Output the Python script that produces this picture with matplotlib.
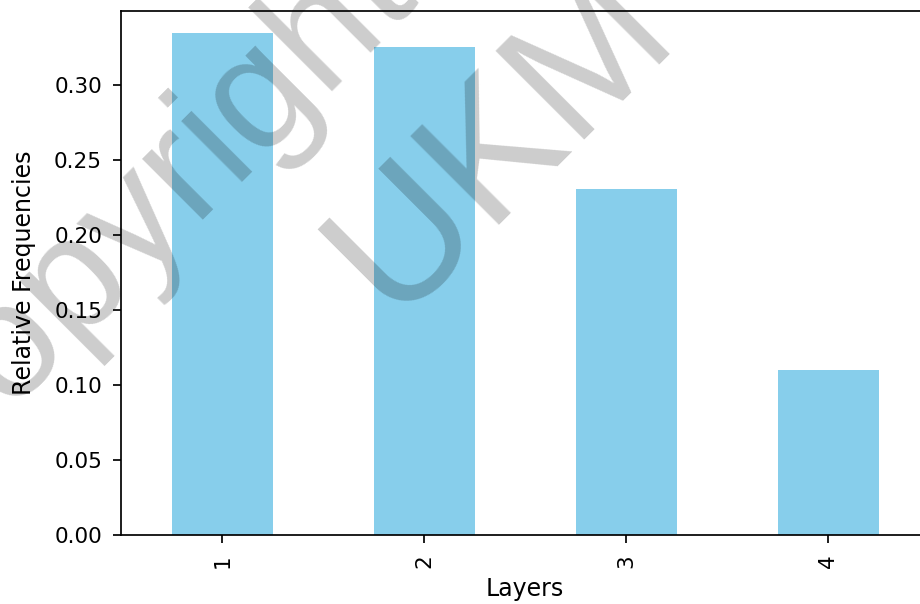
import matplotlib
matplotlib.use("Agg")
import matplotlib.pyplot as plt
import numpy as np

# Data
layers = ["1", "2", "3", "4"]
rel_freq = [0.335, 0.326, 0.231, 0.110]

W, H, DPI = 920, 604, 155
fig = plt.figure(figsize=(W / DPI, H / DPI), dpi=DPI)
ax = fig.add_axes([121.5 / W, 69 / H, (929 - 121.5) / W, (535 - 11) / H])

x = np.arange(len(layers))
ax.bar(x, rel_freq, width=0.5, color="skyblue")
ax.set_xlim(-0.5, len(layers) - 0.5)
ax.set_ylim(0, 0.3497)
ax.set_xticks(x)
ax.set_xticklabels(layers, rotation=90)
ax.tick_params(axis="y", pad=5.5)
ax.tick_params(axis="x", pad=5.5)
ax.set_xlabel("Layers", fontsize=11, labelpad=4)
ax.set_ylabel("Relative Frequencies", fontsize=11, labelpad=8.5)


def px(xp, yp):
    return xp / W, 1 - yp / H


wm_font = dict(family="Liberation Sans", color="black", alpha=0.2,
               rotation=45, rotation_mode="anchor", ha="left", va="baseline",
               zorder=10)
fig.text(*px(-76, 491), "Copyright", fontsize=76, **wm_font)
fig.text(*px(393, 318), "UKM", fontsize=84, **wm_font)

fig.savefig("out.png", dpi=DPI)
